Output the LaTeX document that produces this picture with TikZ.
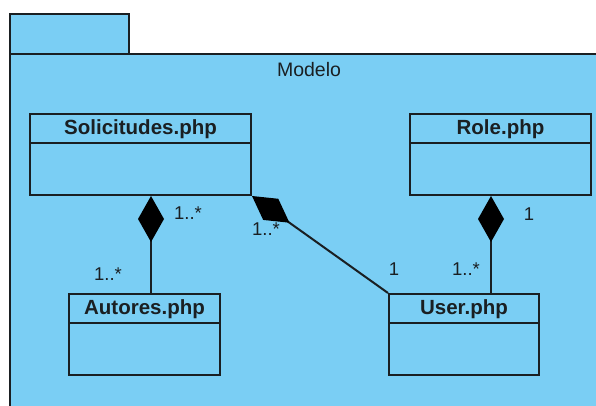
\documentclass[tikz,border=0pt]{standalone}
\usepackage{fontspec}
\setmainfont{Liberation Sans}
\usetikzlibrary{arrows.meta}
\definecolor{pkgfill}{HTML}{7ACEF4}
\definecolor{ink}{HTML}{1A1F22}
\begin{document}
\begin{tikzpicture}[x=1pt,y=-1pt,
  pkgshape/.style={draw=ink, line width=2pt, fill=pkgfill, inner sep=0pt, anchor=north west},
  classbox/.style={draw=ink, line width=2pt, fill=pkgfill, minimum height=81pt, inner sep=0pt, anchor=north west},
  classname/.style={font=\fontsize{20.5}{24}\selectfont\bfseries, text=ink, inner sep=0pt},
  mult/.style={font=\fontsize{18.5}{20}\selectfont, text=ink, inner sep=0pt},
  conn/.style={draw=ink, line width=2pt},
  comp/.style={conn, {Diamond[length=46pt,width=26pt,line width=0pt,fill=black,color=black]}-},
  divider/.style={draw=ink, line width=2pt}
]
\useasboundingbox (0,0) rectangle (596,406);
\clip (0,0) rectangle (596,406);
\fill[white] (0,0) rectangle (596,406);

% package
\node[pkgshape, minimum width=119pt, minimum height=40pt] (tab) at (9,13) {};
\node[pkgshape, minimum width=620pt, minimum height=380pt] (pkg) at (9,53) {};
\node[mult, font=\fontsize{19.5}{22}\selectfont] (modelo) at (309,70) {Modelo};

% classes
\node[classbox, minimum width=221pt] (sol) at (29,113) {};
\node[classbox, minimum width=181pt] (role) at (409,113) {};
\node[classbox, minimum width=151pt] (aut) at (68,293) {};
\node[classbox, minimum width=150pt] (user) at (388,293) {};

\foreach \c in {sol,role,aut,user}{
  \draw[divider] ([yshift=-30pt]\c.north west) -- ([yshift=-30pt]\c.north east);
}
\node[classname] (solname) at ([yshift=-16pt]sol.north) {Solicitudes.php};
\node[classname] (rolename) at ([yshift=-16pt]role.north) {Role.php};
\node[classname] (autname) at ([yshift=-16pt]aut.north) {Autores.php};
\node[classname] (username) at ([yshift=-16pt]user.north) {User.php};

% connectors
\draw[comp] ([xshift=10.5pt]sol.south) -- ([xshift=10.5pt]sol.south |- aut.north);
\draw[comp] (sol.south east) -- (user.north west);
\draw[comp] ([xshift=-9.5pt]role.south) -- ([xshift=-9.5pt]role.south |- user.north);

% multiplicities
\node[mult] (m1) at (188,213) {1..*};
\node[mult] (m2) at (108,274) {1..*};
\node[mult] (m3) at (266,229) {1..*};
\node[mult] (m4) at (394,269) {1};
\node[mult] (m5) at (529,214) {1};
\node[mult] (m6) at (466,269) {1..*};
\end{tikzpicture}
\end{document}
